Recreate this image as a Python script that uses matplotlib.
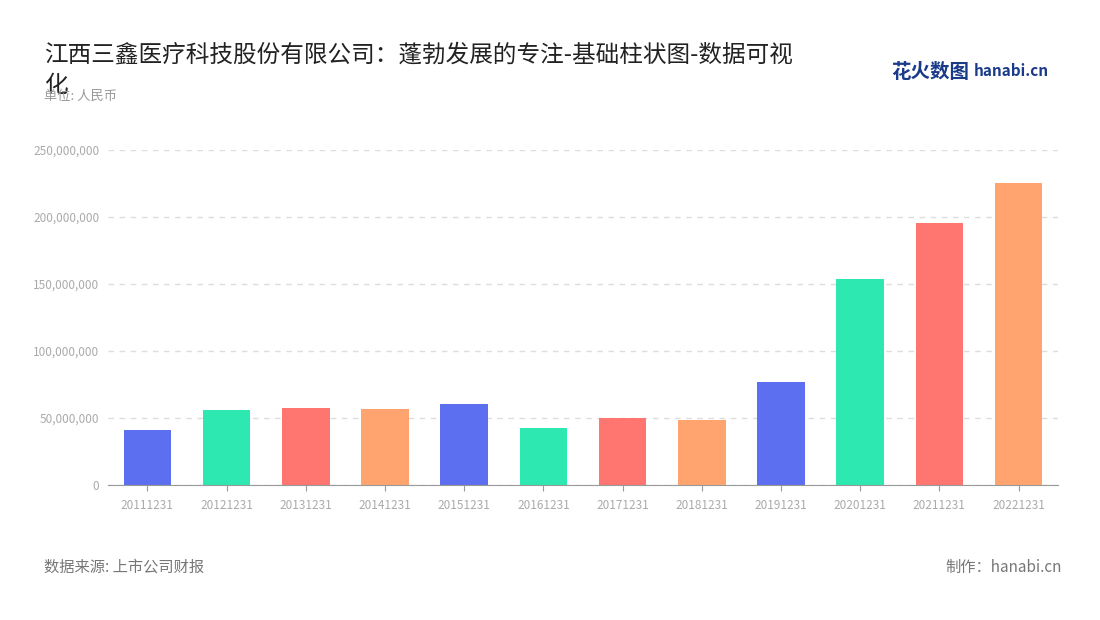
import matplotlib
matplotlib.use('Agg')
import matplotlib.pyplot as plt
from matplotlib.ticker import FuncFormatter

plt.rcParams['font.family'] = 'Noto Sans CJK SC'

years = ['20111231', '20121231', '20131231', '20141231', '20151231', '20161231',
         '20171231', '20181231', '20191231', '20201231', '20211231', '20221231']
values = [41.0e6, 56.0e6, 57.3e6, 56.7e6, 60.4e6, 42.5e6,
          49.8e6, 48.5e6, 76.5e6, 153.7e6, 195.5e6, 225.4e6]
palette = ['#5b6ff0', '#2de8b0', '#ff7670', '#ffa46e']
bar_colors = [palette[i % 4] for i in range(len(years))]

fig = plt.figure(figsize=(11, 6.2), dpi=100)
ax = fig.add_axes([0.098, 0.218, 0.864, 0.540])

ax.bar(range(len(years)), values, width=0.6, color=bar_colors, zorder=2)
ax.set_xlim(-0.5, len(years) - 0.5)
ax.set_ylim(0, 250e6)
ax.set_yticks([0, 50e6, 100e6, 150e6, 200e6, 250e6])
ax.yaxis.set_major_formatter(FuncFormatter(lambda v, p: f'{int(v):,}'))
ax.set_xticks(range(len(years)))
ax.set_xticklabels(years)
ax.tick_params(axis='both', labelsize=8.5, colors='#aaaaaa', length=0, pad=6)
ax.tick_params(axis='x', length=4, color='#999999')
ax.grid(axis='y', linestyle=(0, (4, 4)), color='#dddddd', linewidth=1, zorder=0)
for s in ['top', 'right', 'left']:
    ax.spines[s].set_visible(False)
ax.spines['bottom'].set_color('#999999')

fig.text(0.04, 0.911, '江西三鑫医疗科技股份有限公司：蓬勃发展的专注-基础柱状图-数据可视',
         fontsize=17, color='#222222', va='center')
fig.text(0.04, 0.862, '化', fontsize=17, color='#222222', va='center')
fig.text(0.04, 0.845, '单位: 人民币', fontsize=9.5, color='#999999', va='center')
fig.text(0.04, 0.085, '数据来源: 上市公司财报', fontsize=11, color='#777777', va='center')
fig.text(0.965, 0.085, '制作：hanabi.cn', fontsize=11, color='#777777', ha='right', va='center')
fig.text(0.81, 0.883, '花火数图', fontsize=14, color='#1a3a8a', fontweight='bold', va='center')
fig.text(0.885, 0.886, 'hanabi.cn', fontsize=11, color='#1a3a8a', fontweight='bold', va='center')

fig.savefig('out.png', dpi=100)
